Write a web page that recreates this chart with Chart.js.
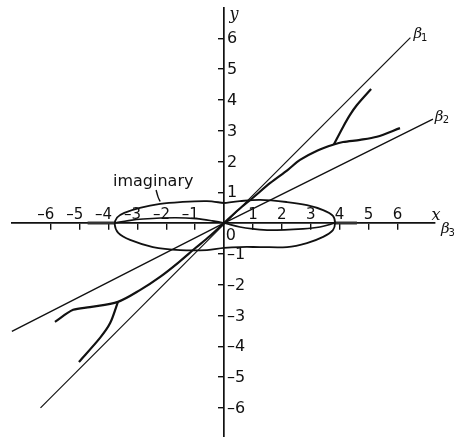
<!DOCTYPE html>
<html>
<head>
<meta charset="utf-8">
<script src="https://cdn.jsdelivr.net/npm/chart.js@4.4.1/dist/chart.umd.min.js"></script>
<style>
  html, body { margin: 0; padding: 0; background: #fff; }
  #wrap { width: 457px; height: 437px; }
</style>
</head>
<body>
<div id="wrap"><canvas id="c"></canvas></div>
<script>
// Tick values on both axes (the origin is labelled separately)
const xTicks = [-6, -5, -4, -3, -2, -1, 1, 2, 3, 4, 5, 6];
const yTicks = [-6, -5, -4, -3, -2, -1, 1, 2, 3, 4, 5, 6];

// Asymptotic straight lines through the origin
const beta1 = [[-6.35, -6.0], [6.45, 6.02]];
const beta2 = [[-7.34, -3.52], [0, 0], [7.23, 3.37]];

// Main real branch: lower-left tail -> origin -> upper-right tail
const mainBranch = [
  [-5.85, -3.21], [-5.22, -2.82], [-4.64, -2.73], [-3.67, -2.56],
  [-2.91, -2.18], [-2.2, -1.74], [-1.6, -1.3], [-1.0, -0.82], [-0.5, -0.43],
  [0, 0],
  [0.5, 0.43], [1.0, 0.82], [1.6, 1.3], [2.2, 1.72], [2.63, 2.05],
  [3.22, 2.35], [3.8, 2.55], [4.12, 2.63], [4.71, 2.7], [5.29, 2.8], [6.09, 3.08]
];
// Secondary branches splitting off the main one
const upperFork = [[3.8, 2.55], [4.12, 3.12], [4.36, 3.51], [4.6, 3.83], [5.09, 4.35]];
const lowerFork = [[-3.67, -2.56], [-3.94, -3.25], [-4.29, -3.73], [-5.02, -4.51]];

// Boundary of the imaginary region (closed)
const loopBoundary = [
  [0, 0.65], [0.55, 0.71], [1.25, 0.75], [2.18, 0.68], [2.87, 0.58], [3.43, 0.42],
  [3.77, 0.23], [3.84, 0], [3.77, -0.23], [3.43, -0.45], [2.87, -0.65], [2.18, -0.78],
  [1.25, -0.78], [0.55, -0.78], [0, -0.81], [-0.59, -0.88], [-1.52, -0.88],
  [-2.46, -0.78], [-3.25, -0.55], [-3.66, -0.32], [-3.78, -0.05], [-3.7, 0.18],
  [-3.45, 0.33], [-2.91, 0.49], [-2.21, 0.62], [-1.52, 0.68], [-0.59, 0.71], [0, 0.65]
];
// Curve crossing the region through the origin
const innerCurve = [
  [-3.78, 0], [-3.3, 0.08], [-2.8, 0.13], [-1.7, 0.17], [-0.95, 0.14], [-0.4, 0.07],
  [0, 0], [0.55, -0.13], [1.0, -0.19], [1.59, -0.23], [2.73, -0.19], [3.32, -0.13], [3.84, 0]
];
// Real-axis segments outside the region
const axisLeft = [[-4.72, 0], [-3.78, 0]];
const axisRight = [[3.84, 0], [4.6, 0]];
// Pointer from the "imaginary" caption to the boundary
const pointer = [[-2.35, 1.07], [-2.28, 0.84], [-2.21, 0.7]];

const INK = '#111';
const NUM_FONT = '"DejaVu Sans", sans-serif';
const ITAL_FONT = '"DejaVu Serif", serif';

const fmt = v => (v < 0 ? '\u2013' + (-v) : String(v));
const pts = a => a.map(([x, y]) => ({ x, y }));

function curve(data, width, tension, color) {
  return {
    data: pts(data), showLine: true, pointRadius: 0, borderColor: color || INK,
    borderWidth: width, tension: tension, fill: false, clip: false
  };
}

// Captions placed in data coordinates
const notes = [
  { text: 'imaginary', x: -3.84, y: 1.2, font: '16px ' + NUM_FONT, align: 'left', base: 'alphabetic' },
  { text: '0', x: 0.24, y: -0.42, font: '16px ' + NUM_FONT, align: 'center', base: 'middle' },
  { text: 'y', x: 0.35, y: 6.75, font: 'italic 16px ' + ITAL_FONT, align: 'center', base: 'middle' },
  { text: 'x', x: 7.34, y: 0.22, font: 'italic 16px ' + ITAL_FONT, align: 'center', base: 'middle' },
  { text: '\u03b2', x: 6.71, y: 6.14, font: 'italic 15px ' + ITAL_FONT, align: 'center', base: 'middle' },
  { text: '1', x: 6.93, y: 6.0, font: '10px ' + NUM_FONT, align: 'center', base: 'middle' },
  { text: '\u03b2', x: 7.44, y: 3.44, font: 'italic 15px ' + ITAL_FONT, align: 'center', base: 'middle' },
  { text: '2', x: 7.68, y: 3.32, font: '10px ' + NUM_FONT, align: 'center', base: 'middle' },
  { text: '\u03b2', x: 7.66, y: -0.19, font: 'italic 15px ' + ITAL_FONT, align: 'center', base: 'middle' },
  { text: '3', x: 7.88, y: -0.33, font: '10px ' + NUM_FONT, align: 'center', base: 'middle' }
];

const labelPlugin = {
  id: 'labels',
  afterDraw(chart) {
    const { ctx } = chart;
    const xs = chart.scales.x, ys = chart.scales.y;
    ctx.save();
    ctx.fillStyle = INK;
    // y tick labels sit to the right of the vertical axis
    ctx.font = '16px ' + NUM_FONT;
    ctx.textAlign = 'left';
    ctx.textBaseline = 'middle';
    const ax = xs.getPixelForValue(0);
    ys.ticks.forEach(t => {
      ctx.fillText(fmt(t.value), ax + 3, ys.getPixelForValue(t.value) + 1);
    });
    notes.forEach(n => {
      ctx.font = n.font;
      ctx.textAlign = n.align;
      ctx.textBaseline = n.base;
      ctx.fillText(n.text, xs.getPixelForValue(n.x), ys.getPixelForValue(n.y));
    });
    ctx.restore();
  }
};

new Chart(document.getElementById('c'), {
  type: 'scatter',
  data: {
    datasets: [
      curve(beta1, 1.2, 0),
      curve(beta2, 1.4, 0),
      curve(mainBranch, 2.2, 0.3),
      curve(upperFork, 2.2, 0.3),
      curve(lowerFork, 2.2, 0.3),
      curve(loopBoundary, 1.8, 0.35),
      curve(innerCurve, 1.7, 0.35),
      curve(axisLeft, 3, 0, '#333'),
      curve(axisRight, 3, 0, '#333'),
      curve(pointer, 1.4, 0.3)
    ]
  },
  options: {
    responsive: true,
    maintainAspectRatio: false,
    devicePixelRatio: 1,
    animation: false,
    layout: { padding: { left: 12, right: 22, top: 8, bottom: 0 } },
    plugins: { legend: { display: false }, tooltip: { enabled: false } },
    scales: {
      x: {
        type: 'linear',
        position: { y: 0 },
        min: -7.336, max: 7.301,
        afterBuildTicks: s => { s.ticks = xTicks.map(v => ({ value: v })); },
        afterFit: s => { s.height = 0; },
        grid: { drawOnChartArea: false, drawTicks: true, tickLength: 6, color: INK, lineWidth: 1.4 },
        border: { display: true, color: INK, width: 1.7 },
        ticks: {
          color: INK, font: { family: NUM_FONT, size: 15 }, padding: -23,
          maxRotation: 0, autoSkip: false,
          callback: v => (v < 0 ? fmt(v) + '\u2007' : fmt(v))
        }
      },
      y: {
        type: 'linear',
        position: { x: 0 },
        min: -6.948, max: 6.981,
        afterBuildTicks: s => { s.ticks = yTicks.map(v => ({ value: v })); },
        afterFit: s => { s.width = 0; },
        grid: { drawOnChartArea: false, drawTicks: true, tickLength: 5, color: INK, lineWidth: 1.4 },
        border: { display: true, color: INK, width: 1.7 },
        ticks: { display: false }
      }
    }
  },
  plugins: [labelPlugin]
});
</script>
</body>
</html>
